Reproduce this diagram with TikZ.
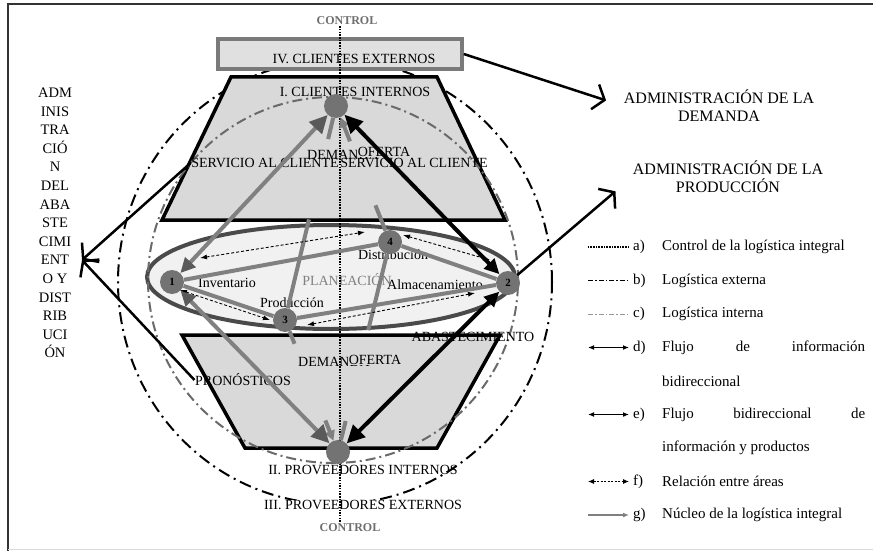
\documentclass[tikz,border=0pt]{standalone}
\usepackage{fontspec}
\setmainfont{Liberation Serif}
\usetikzlibrary{arrows.meta}
\usetikzlibrary{calc}
\definecolor{trapgray}{HTML}{D9D9D9}
\definecolor{boxgray}{HTML}{E0E0E0}
\definecolor{boxline}{HTML}{7A7A7A}
\definecolor{ellfill}{HTML}{F1F1F1}
\definecolor{elline}{HTML}{4A4A4A}
\definecolor{circgray}{HTML}{737373}
\definecolor{coregray}{HTML}{808080}
\definecolor{headgray}{HTML}{5A5A5A}
\definecolor{intgray}{HTML}{6A6A6A}
\definecolor{ctrlgray}{HTML}{6E6E6E}
\definecolor{framegray}{HTML}{333333}

\begin{document}
\begin{tikzpicture}[x=1pt, y=-1pt]
    \useasboundingbox (0,0) rectangle (873,551);
    %% 定义样式
    \tikzset{
        txt/.style={font=\fontsize{14}{16}\selectfont, inner sep=0.5pt},
        ctrltxt/.style={font=\bfseries\fontsize{12}{14}\selectfont, text=ctrlgray, inner sep=1pt},
        circ/.style={circle, fill=circgray, minimum size=24pt, inner sep=0pt, font=\bfseries\fontsize{11}{11}\selectfont},
        core/.style={draw=coregray, line width=4pt},
        garr/.style={line width=4pt, draw=coregray, {Triangle[length=15pt,width=14pt,color=headgray]}-{Triangle[length=18pt,width=17pt,color=headgray]}},
        barr/.style={line width=4pt, draw=black, {Triangle[length=15pt,width=14pt]}-{Triangle[length=18pt,width=17pt]}},
        rel/.style={dash pattern=on 3pt off 2pt, line width=0.9pt, {Latex[length=7pt,width=5pt]}-{Latex[length=7pt,width=5pt]}},
        admarr/.style={line width=2.5pt, -{Straight Barb[length=10pt,width=26pt]}},
        ctrl/.style={line width=1.6pt, dash pattern=on 1.5pt off 1.2pt},
        extdash/.style={line width=2pt, dash pattern=on 12pt off 5pt on 2pt off 5pt},
        intdash/.style={draw=intgray, line width=2pt, dash pattern=on 10pt off 4pt on 2pt off 4pt},
        trap/.style={draw=black, line width=3.5pt, fill=trapgray},
        admtxt/.style={align=center, font=\fontsize{16}{18}\selectfont, inner sep=0.5pt},
        legtxt/.style={font=\fontsize{15}{17}\selectfont, anchor=west, inner sep=0pt}
    }
    %% 定义legrow命令
    \newcommand{\legrow}[4]{
        \coordinate (la#3) at (588,#1);
        \coordinate (lb#3) at (629,#1);
        \draw[#2] (la#3) -- (lb#3);
        \node[legtxt] (lk#3) at (633,#1) {#3)};
        \node[legtxt] (lt#3) at (662,#1) {#4};
    }

    %% 外框、外部物流、计划椭圆
    \draw[line width=2.5pt, framegray] (8,551) -- (8,4) -- (873,4);
    \draw[line width=0.8pt, black!15] (8,549) -- (873,549);
    \draw[extdash] (335,282) ellipse [x radius=217pt, y radius=222pt];
    \draw[line width=4pt, draw=elline, fill=ellfill] (331,277) ellipse [x radius=184pt, y radius=52pt];

    %% 两个梯形和外部客户框
    \draw[trap] (231,77) -- (437,77) -- (505,220) -- (162,220) -- cycle;
    \draw[trap] (182,335) -- (500,335) -- (437,448) -- (245,448) -- cycle;
    \node[draw=boxline, line width=3.5pt, fill=boxgray, minimum width=244pt, minimum height=30pt] (cext) at (340,54) {};
    \node[txt] (cexttxt) at (354,59) {IV. CLIENTES EXTERNOS};

    %% 内部物流
    \draw[intdash] (333,280) ellipse [x radius=185pt, y radius=183pt];

    %% 文字
    \node[ctrltxt] (ctrlT) at (347,21) {CONTROL};
    \node[ctrltxt] (ctrlB) at (350,528) {CONTROL};
    \node[txt] (cint) at (355,92) {I. CLIENTES INTERNOS};
    \node[txt] (scl1) at (265,163) {SERVICIO AL CLIENTE};
    \node[txt] (dem1) at (343,155) {DEMANDA};
    \node[txt, fill=trapgray] (ofe1) at (384,152) {OFERTA};
    \node[txt] (scl2) at (414,163) {SERVICIO AL CLIENTE};
    \node[txt] (pinv) at (227,283) {Inventario};
    \node[txt] (pprod) at (292,303) {Producción};
    \node[txt, text=coregray] (plan) at (347,280) {PLANEACIÓN};
    \node[txt] (palm) at (435,285) {Almacenamiento};
    \node[txt] (pdis) at (393,255) {Distribución};
    \node[txt] (abas) at (473,337) {ABASTECIMIENTO};
    \node[txt] (dem2) at (334,362) {DEMANDA};
    \node[txt, fill=trapgray] (ofe2) at (375,360) {OFERTA};
    \node[txt] (pron) at (243,380) {PRONÓSTICOS};
    \node[txt] (pint) at (363,470) {II. PROVEEDORES INTERNOS};
    \node[txt, fill=white] (pext) at (363,505) {III. PROVEEDORES EXTERNOS};
    \node[admtxt] (adem) at (719,106) {ADMINISTRACIÓN DE LA\\DEMANDA};
    \node[admtxt] (aprod) at (728,177) {ADMINISTRACIÓN DE LA\\PRODUCCIÓN};
    \node[align=center, font=\fontsize{14.5}{18.6}\selectfont, inner sep=0pt] (adist) at (55,223)
        {ADM\\INIS\\TRA\\CIÓ\\N\\DEL\\ABA\\STE\\CIMI\\ENT\\O Y\\DIST\\RIB\\UCI\\ÓN};

    %% 控制线
    \draw[ctrl] (ctrlT.south -| cext) -- (ctrlB.north -| cext);

    %% 节点
    \node[circ] (ntop) at (336,106) {};
    \node[circ] (nbot) at (338,452) {};
    \node[circ] (n1) at (172,282) {1};
    \node[circ] (n2) at (508,283) {2};
    \node[circ] (n3) at (285,320) {3};
    \node[circ] (n4) at (390,242) {4};

    %% 核心线（只画看得见的两段）
    \draw[core] (n3) -- ($(n3)!0.47!(ntop)$);
    \draw[core] ($(ntop)!34pt!(n3)$) -- (ntop);
    \draw[core] (n4) -- ($(n4)!0.27!(ntop)$);
    \draw[core, -{Triangle[length=10pt,width=10pt]}] ($(ntop)!38pt!(n4)$) -- (ntop);
    \draw[core] (n3) -- ($(n3)!0.18!(nbot)$);
    \draw[core, -{Triangle[length=10pt,width=10pt]}] ($(nbot)!34pt!(n3)$) -- (nbot);
    \draw[core] (n4) -- ($(n4)!0.42!(nbot)$);
    \draw[core] ($(nbot)!32pt!(n4)$) -- (nbot);

    %% 椭圆内的灰线
    \draw[core] (n1) -- (n4);
    \draw[core] (n1) -- (n3);
    \draw[core] (n3) -- (n2);
    \draw[core] (n4) -- (n2);

    %% 区域之间的关系
    \draw[rel] ([shift={(28,-24)}]n1.center) -- ([shift={(-25,-10)}]n4.center);
    \draw[rel] ([shift={(8,8)}]n1.center) -- ([shift={(-15,0)}]n3.center);
    \draw[rel] ([shift={(22,5)}]n3.center) -- ([shift={(-33,10)}]n2.center);
    \draw[rel] ([shift={(13,-7)}]n4.center) -- ([shift={(-18,-23)}]n2.center);

    %% 双向粗箭头
    \draw[garr] (n1) -- (ntop);
    \draw[barr] (n2) -- (ntop);
    \draw[garr] (n1) -- (nbot);
    \draw[barr] (n2) -- (nbot);

    %% 管理箭头
    \coordinate (tipL) at (82,260);
    \draw[admarr, shorten >=18pt] (cext.east) -- (adem.west);
    \draw[admarr, shorten >=22pt] (n2) -- (aprod.west);
    \draw[admarr] (scl1.west) -- (tipL);
    \draw[admarr] (pron.west) -- (tipL);

    %% 图例
    \legrow{247}{line width=1.5pt, dash pattern=on 1pt off 0.6pt}{a}{Control de la logística integral}
    \legrow{280.5}{line width=1.5pt, dash pattern=on 5pt off 2pt on 1.5pt off 2pt}{b}{Logística externa}
    \legrow{314}{intgray!70, line width=1pt, dash pattern=on 5pt off 2pt on 1.5pt off 2pt}{c}{Logística interna}
    \legrow{347.5}{line width=1.2pt, {Latex[length=6pt,width=5pt]}-{Latex[length=6pt,width=5pt]}}{d}{\makebox[203pt][s]{Flujo\hfill de\hfill información}}
    \node[legtxt] (ltd2) at (662,381) {bidireccional};
    \legrow{414.5}{line width=1.6pt, {Latex[length=6pt,width=5pt]}-{Latex[length=6pt,width=5pt]}}{e}{\makebox[203pt][s]{Flujo\hfill bidireccional\hfill de}}
    \node[legtxt] (lte2) at (662,448) {información y productos};
    \legrow{481.5}{line width=1pt, dash pattern=on 2pt off 1.5pt, {Latex[length=6pt,width=5pt]}-{Latex[length=6pt,width=5pt]}}{f}{Relación entre áreas}
    \legrow{515}{coregray, line width=1.2pt, -{Latex[length=6pt,width=5pt]}}{g}{Núcleo de la logística integral}
\end{tikzpicture}
\end{document}
